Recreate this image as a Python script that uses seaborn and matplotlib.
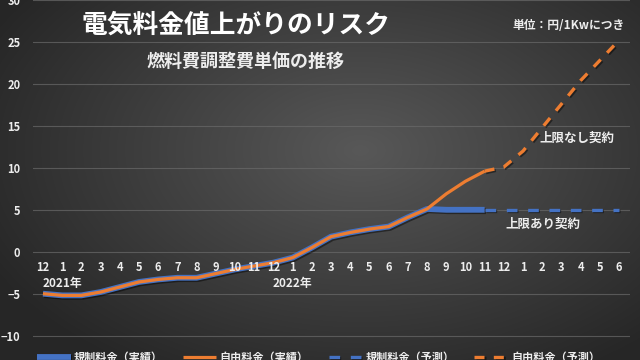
import numpy as np
import pandas as pd
import matplotlib
matplotlib.use("Agg")
import matplotlib.pyplot as plt
import matplotlib.patheffects as pe
import seaborn as sns

# ---- data ----
month_labels = ["12", "1", "2", "3", "4", "5", "6", "7", "8", "9", "10", "11", "12",
                "1", "2", "3", "4", "5", "6", "7", "8", "9", "10", "11", "12",
                "1", "2", "3", "4", "5", "6"]
year_labels = ["2021年", "2022年"]
year_label_pos = [1, 13]

free_actual = [-5.0, -5.2, -5.2, -4.8, -4.2, -3.6, -3.3, -3.1, -3.1, -2.6, -2.1, -1.7,
               -1.3, -0.7, 0.5, 1.8, 2.3, 2.7, 3.0, 4.1, 5.1, 6.9, 8.4, 9.6]
reg_actual = [-5.0, -5.2, -5.2, -4.8, -4.2, -3.6, -3.3, -3.1, -3.1, -2.6, -2.1, -1.7,
              -1.3, -0.7, 0.5, 1.8, 2.3, 2.7, 3.0, 4.1, 5.1, 5.0, 5.0, 5.0]
reg_forecast = [5.0, 5.0, 5.0, 5.0, 5.0, 5.0, 5.0, 5.0]
free_forecast = [9.6, 10.1, 12.0, 14.8, 17.6, 20.4, 22.8, 25.2]
forecast_start = 23

series_names = ["規制料金（実績）", "自由料金（実績）", "規制料金（予測）", "自由料金（予測）"]

plt.rcParams['font.family'] = ['Noto Sans CJK JP', 'DejaVu Sans']

BLUE = "#4472C4"
ORANGE = "#ED7D31"
TXT = "#EDEDED"

fig = plt.figure(figsize=(6.4, 3.6), dpi=100)

# background gradient
bg = fig.add_axes([0, 0, 1, 1], zorder=0)
yy, xx = np.mgrid[0:360, 0:640]
d = np.sqrt(((xx - 360) / 420.0) ** 2 + ((yy - 150) / 260.0) ** 2)
d = np.clip(d, 0, 1)
c_in = np.array([0x58, 0x58, 0x58]) / 255
c_out = np.array([0x26, 0x26, 0x26]) / 255
img = c_in[None, None, :] * (1 - d[..., None]) + c_out[None, None, :] * d[..., None]
bg.imshow(img, aspect='auto', extent=[0, 1, 0, 1])
bg.set_axis_off()

ax = fig.add_axes([33 / 640, 0, 597 / 640, 1], zorder=1)
ax.set_facecolor("none")

n_act = len(free_actual)
df_act = pd.DataFrame({"idx": np.arange(n_act), "free": free_actual, "reg": reg_actual})
idx_f = np.arange(forecast_start, forecast_start + len(free_forecast))
df_fc = pd.DataFrame({"idx": idx_f, "free": free_forecast, "reg": reg_forecast})

shadow = [pe.SimpleLineShadow(offset=(1, -1), shadow_color='black', alpha=0.45), pe.Normal()]

sns.lineplot(data=df_act, x="idx", y="reg", ax=ax, color=BLUE, linewidth=4.2,
             label=series_names[0], path_effects=shadow, solid_capstyle='butt')
sns.lineplot(data=df_act, x="idx", y="free", ax=ax, color=ORANGE, linewidth=2.3,
             label=series_names[1], solid_capstyle='butt')
sns.lineplot(data=df_fc, x="idx", y="reg", ax=ax, color=BLUE, linewidth=2.4,
             linestyle=(0, (3.2, 3.2)), label=series_names[2], path_effects=shadow)
sns.lineplot(data=df_fc, x="idx", y="free", ax=ax, color=ORANGE, linewidth=2.4,
             linestyle=(0, (3.0, 2.8)), label=series_names[3], path_effects=shadow)

ax.set_xlim(-0.52, 30.57)
ax.set_ylim(-12.9, 30.0)
ax.set_yticks(range(-10, 31, 5))
ax.set_xticks([])
ax.set_xlabel("")
ax.set_ylabel("")
for s in ax.spines.values():
    s.set_visible(False)
ax.grid(axis='y', color="#6a6a6a", linewidth=0.8, alpha=0.7)
ax.set_axisbelow(True)
ax.tick_params(axis='y', length=0, pad=9, labelcolor=TXT, labelsize=8)
for t in ax.get_yticklabels():
    t.set_fontweight('bold')

# x month labels inside the plot
for i, lab in enumerate(month_labels):
    ax.text(i, -1.85, lab, ha='center', va='center', color=TXT, fontsize=8, fontweight='bold')
for p, lab in zip(year_label_pos, year_labels):
    ax.text(p, -3.8, lab, ha='center', va='center', color=TXT, fontsize=8.5, fontweight='bold')

# annotations
fig.text(0.902, 0.617, "上限なし契約", ha='center', va='center',
         color=TXT, fontsize=9, fontweight='bold')
fig.text(0.849, 0.378, "上限あり契約", ha='center', va='center',
         color=TXT, fontsize=9, fontweight='bold')

fig.text(0.369, 0.93, "電気料金値上がりのリスク", ha='center', va='center', color="white",
         fontsize=18.5, fontweight='bold')
fig.text(0.383, 0.828, "燃料費調整費単価の推移", ha='center', va='center', color=TXT,
         fontsize=13, fontweight='bold')
fig.text(0.888, 0.93, "単位：円/1Kwにつき", ha='center', va='center', color=TXT,
         fontsize=8.5, fontweight='bold')

handles, labels = ax.get_legend_handles_labels()
ax.legend_.remove()
leg = fig.legend(handles, labels, loc='center', bbox_to_anchor=(0.498, 0.007),
                 ncol=4, frameon=False, fontsize=8, handlelength=3.0, handletextpad=0.3,
                 columnspacing=1.8)
for t in leg.get_texts():
    t.set_color(TXT)
    t.set_fontweight('bold')

fig.savefig("out.png", dpi=100)
